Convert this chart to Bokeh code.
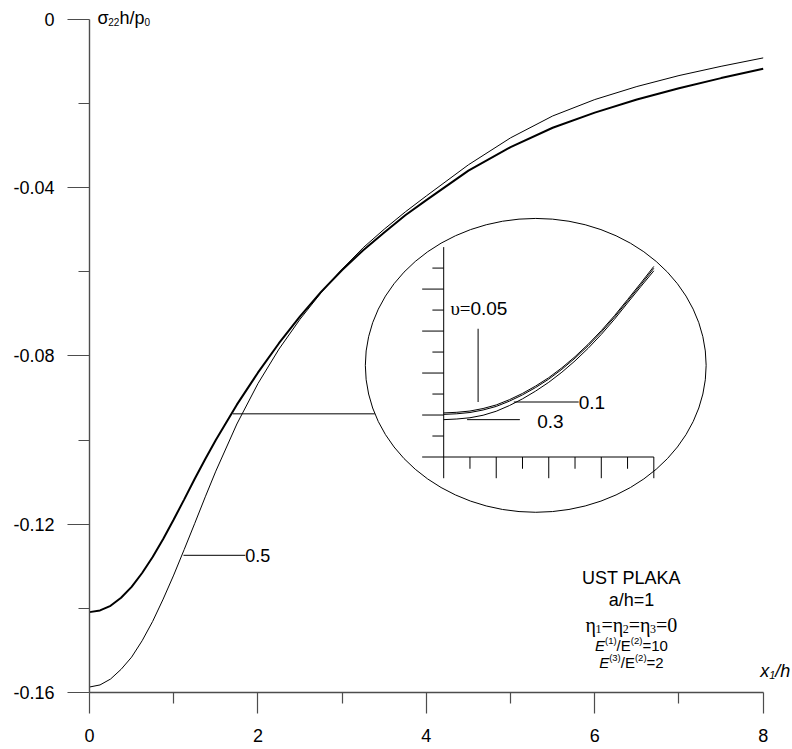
from bokeh.plotting import figure
from bokeh.models import Range1d, FixedTicker, Label
from bokeh.embed import file_html
from bokeh.resources import INLINE

# ---------------- data ----------------
x_main = [0, 0.125, 0.25, 0.375, 0.5, 0.625, 0.75, 0.875, 1.0, 1.125, 1.25, 1.375,
          1.5, 1.75, 2.0, 2.25, 2.5, 2.75, 3.0, 3.25, 3.5, 3.75, 4.0, 4.5, 5.0,
          5.5, 6.0, 6.5, 7.0, 7.5, 8.0]
# upsilon = 0.05, 0.1, 0.3 (coincide at this scale)
sigma_nu_low = [-0.1409, -0.1405, -0.1394, -0.1375, -0.1349, -0.1316, -0.1278,
                -0.1235, -0.1189, -0.1141, -0.1092, -0.1045, -0.1000, -0.0916,
                -0.0840, -0.0770, -0.0706, -0.0648, -0.0596, -0.0549, -0.0507,
                -0.0466, -0.0430, -0.0360, -0.0304, -0.0258, -0.0222, -0.0191,
                -0.0164, -0.0140, -0.0118]
# upsilon = 0.5
sigma_nu_05 = [-0.1587, -0.1582, -0.1568, -0.1545, -0.1516, -0.1477, -0.1431,
               -0.1378, -0.1321, -0.1260, -0.1198, -0.1135, -0.1074, -0.0962,
               -0.0866, -0.0784, -0.0713, -0.0650, -0.0594, -0.0543, -0.0499,
               -0.0458, -0.0420, -0.0346, -0.0282, -0.0230, -0.0191, -0.0160,
               -0.0134, -0.0112, -0.0092]

# inset (magnified view), in inset tick units
inset_u = [0, 0.5, 1, 1.5, 2, 2.5, 3, 3.5, 4, 4.5, 5, 5.5, 6, 6.5, 7, 7.5, 8]
inset_nu005 = [2.10, 2.13, 2.19, 2.31, 2.48, 2.73, 3.03, 3.38, 3.78, 4.25,
               4.78, 5.37, 6.02, 6.73, 7.50, 8.28, 9.08]
inset_nu01 = [2.03, 2.06, 2.12, 2.24, 2.41, 2.66, 2.96, 3.31, 3.71, 4.18,
              4.71, 5.30, 5.95, 6.66, 7.43, 8.20, 8.99]
inset_nu03 = [1.78, 1.81, 1.87, 1.99, 2.18, 2.45, 2.77, 3.14, 3.56, 4.04,
              4.58, 5.18, 5.84, 6.56, 7.34, 8.11, 8.87]
inset_xticks = [0, 1, 2, 3, 4, 5, 6, 7, 8]
inset_yticks = [0, 1, 2, 3, 4, 5, 6, 7, 8, 9]

x_major = [0, 2, 4, 6, 8]
x_minor = [1, 3, 5, 7]
y_major = [-0.16, -0.12, -0.08, -0.04, 0]
y_minor = [-0.14, -0.10, -0.06, -0.02]
y_labels = ["-0.16", "-0.12", "-0.08", "-0.04", "0"]
x_labels = ["0", "2", "4", "6", "8"]

# ---------------- layout constants ----------------
SANS = "Liberation Sans"
SERIF = "Liberation Serif"
AXIS_COLOR = "#4d4d4d"
BASE_FIX = 6       # screen px correction for text baselines

# inset frame placement in main-data units
INSET_X0, INSET_DX = 4.206, 0.3119
INSET_Y0, INSET_DY = -0.10404, 0.004988

X_END = 8.348      # frame extends to the right of the axis end (room for x1/h)
Y_END = 0.00444    # frame extends above the axis top (room for the y title)

p = figure(width=792, height=749, x_range=Range1d(0, X_END), y_range=Range1d(-0.16, Y_END),
           output_backend="svg", toolbar_location=None,
           min_border_left=89, min_border_right=0, min_border_top=0,
           min_border_bottom=57)
p.grid.visible = False
p.outline_line_color = None
p.background_fill_color = "white"
p.border_fill_color = "white"

p.extra_x_ranges = {"inset": Range1d((0 - INSET_X0) / INSET_DX, (X_END - INSET_X0) / INSET_DX)}
p.extra_y_ranges = {"inset": Range1d((-0.16 - INSET_Y0) / INSET_DY, (Y_END - INSET_Y0) / INSET_DY)}

for ax in (p.xaxis[0], p.yaxis[0]):
    ax.axis_line_color = AXIS_COLOR
    ax.axis_line_width = 1.4
    ax.major_tick_line_color = AXIS_COLOR
    ax.minor_tick_line_color = AXIS_COLOR
    ax.major_tick_line_width = 1.2
    ax.minor_tick_line_width = 1.2
    ax.major_tick_in = 0
    ax.minor_tick_in = 0
    ax.minor_tick_out = 11
    ax.major_label_text_font = SANS
    ax.major_label_text_font_size = "18px"
    ax.major_label_text_color = "black"

p.xaxis.bounds = (0, 8)
p.xaxis.ticker = FixedTicker(ticks=x_major, minor_ticks=x_minor)
p.xaxis.major_label_overrides = {v: s for v, s in zip(x_major, x_labels)}
p.xaxis.major_tick_out = 21
p.xaxis.major_label_standoff = 15

p.yaxis.bounds = (-0.16, 0)
p.yaxis.ticker = FixedTicker(ticks=y_major, minor_ticks=y_minor)
p.yaxis.major_label_overrides = {v: s for v, s in zip(y_major, y_labels)}
p.yaxis.major_tick_out = 22
p.yaxis.major_label_standoff = 13

# ---------------- main curves ----------------
p.line(x_main, sigma_nu_low, line_color="black", line_width=2.0)
p.line(x_main, sigma_nu_05, line_color="black", line_width=1.0)

# ---------------- rich text helper ----------------
W_SANS = {'0': 556, '1': 556, '2': 556, '3': 556, '4': 556, '5': 556, '6': 556,
          '7': 556, '8': 556, '9': 556, '.': 278, '-': 333, '=': 584, '/': 278,
          '(': 333, ')': 333, 'E': 667, 'U': 722, 'S': 667, 'T': 611, ' ': 278,
          'P': 667, 'L': 556, 'A': 667, 'K': 667, 'a': 556, 'h': 556, 'p': 556,
          'x': 500, 'σ': 600}
W_SERIF = {'η': 500, 'υ': 490, '=': 564, '0': 500, '1': 500, '2': 500, '3': 500}


def tw(s, size, font):
    table = W_SERIF if font == SERIF else W_SANS
    return sum(table.get(c, 556) for c in s) * size / 1000.0


def rich(x, y, pieces, align="left", rng="default", dx=0.0):
    total = sum(tw(t, sz, f) for t, sz, f, st, rise in pieces)
    off = dx if align == "left" else dx - total / 2.0
    for t, sz, f, st, rise in pieces:
        p.add_layout(Label(x=x, y=y, x_offset=off, y_offset=rise + BASE_FIX, text=t,
                           text_font=f, text_font_size=f"{sz}px", text_font_style=st,
                           text_baseline="alphabetic", text_align="left",
                           text_color="black", x_range_name=rng, y_range_name=rng))
        off += tw(t, sz, f)


# axis titles
rich(0, 0, [("σ", 18, SANS, "normal", -5), ("22", 10, SANS, "normal", -9),
            ("h/p", 18, SANS, "normal", -5), ("0", 10, SANS, "normal", -9)], dx=8)
rich(8, -0.16, [("x", 18, SANS, "italic", 16), ("1", 11, SANS, "italic", 12),
                ("/h", 18, SANS, "italic", 16)], dx=-3)

# label for upsilon = 0.5
p.segment(x0=[1.116], y0=[-0.1274], x1=[1.85], y1=[-0.1274], line_color="black", line_width=1)
rich(1.85, -0.12891, [("0.5", 18, SANS, "normal", 0)])

# parameter block
BX = 6.435
rich(BX, -0.13413, [("UST PLAKA", 18, SANS, "normal", 0)], align="center")
rich(BX, -0.13943, [("a/h=1", 18, SANS, "normal", 0)], align="center")
rich(BX, -0.14527, [("η", 20, SERIF, "normal", 0), ("1", 12, SERIF, "normal", -4),
                    ("=η", 20, SERIF, "normal", 0), ("2", 12, SERIF, "normal", -4),
                    ("=η", 20, SERIF, "normal", 0), ("3", 12, SERIF, "normal", -4),
                    ("=0", 20, SERIF, "normal", 0)], align="center")
rich(BX, -0.15029, [("E", 15, SANS, "italic", 0), ("(1)", 9.5, SANS, "normal", 5),
                    ("/E", 15, SANS, "normal", 0), ("(2)", 9.5, SANS, "normal", 5),
                    ("=10", 15, SANS, "normal", 0)], align="center")
rich(BX, -0.15439, [("E", 15, SANS, "italic", 0), ("(3)", 9.5, SANS, "normal", 5),
                    ("/E", 15, SANS, "normal", 0), ("(2)", 9.5, SANS, "normal", 5),
                    ("=2", 15, SANS, "normal", 0)], align="center")

# ---------------- inset ----------------
p.ellipse(x=[5.299], y=[-0.08226], width=[4.047], height=[0.06983],
          fill_color=None, line_color="black", line_width=1)
# leader from the main curves to the inset
p.segment(x0=[1.70], y0=[-0.09378], x1=[3.388], y1=[-0.09378], line_color="black", line_width=1)

IN = dict(x_range_name="inset", y_range_name="inset")
# inset axes
p.segment(x0=[0, 0], y0=[0, 0], x1=[0, 8], y1=[10, 0], line_color="black", line_width=1, **IN)
# inset ticks (long on even, short on odd)
ytick_len = [0.82 if v % 2 == 0 else 0.43 for v in inset_yticks]
p.segment(x0=[-l for l in ytick_len], y0=inset_yticks, x1=[0] * len(inset_yticks),
          y1=inset_yticks, line_color="black", line_width=1, **IN)
xtick_len = [1.01 if u % 2 == 0 else 0.56 for u in inset_xticks]
p.segment(x0=inset_xticks, y0=[-l for l in xtick_len], x1=inset_xticks,
          y1=[0] * len(inset_xticks), line_color="black", line_width=1, **IN)
# inset curves
p.line(inset_u, inset_nu005, line_color="black", line_width=1, **IN)
p.line(inset_u, inset_nu01, line_color="black", line_width=1, **IN)
p.line(inset_u, inset_nu03, line_color="black", line_width=1, **IN)
# inset labels
p.segment(x0=[1.31, 2.67, 0.89], y0=[6.11, 2.62, 1.78], x1=[1.31, 5.14, 2.90],
          y1=[2.62, 2.62, 1.78], line_color="black", line_width=1, **IN)
rich(0.255, 6.80, [("υ=", 19, SERIF, "normal", 0), ("0.05", 19, SANS, "normal", 0)], rng="inset")
rich(5.14, 2.30, [("0.1", 19, SANS, "normal", 0)], rng="inset")
rich(3.56, 1.41, [("0.3", 19, SANS, "normal", 0)], rng="inset")

open("out.html", "w").write(file_html(p, INLINE))
